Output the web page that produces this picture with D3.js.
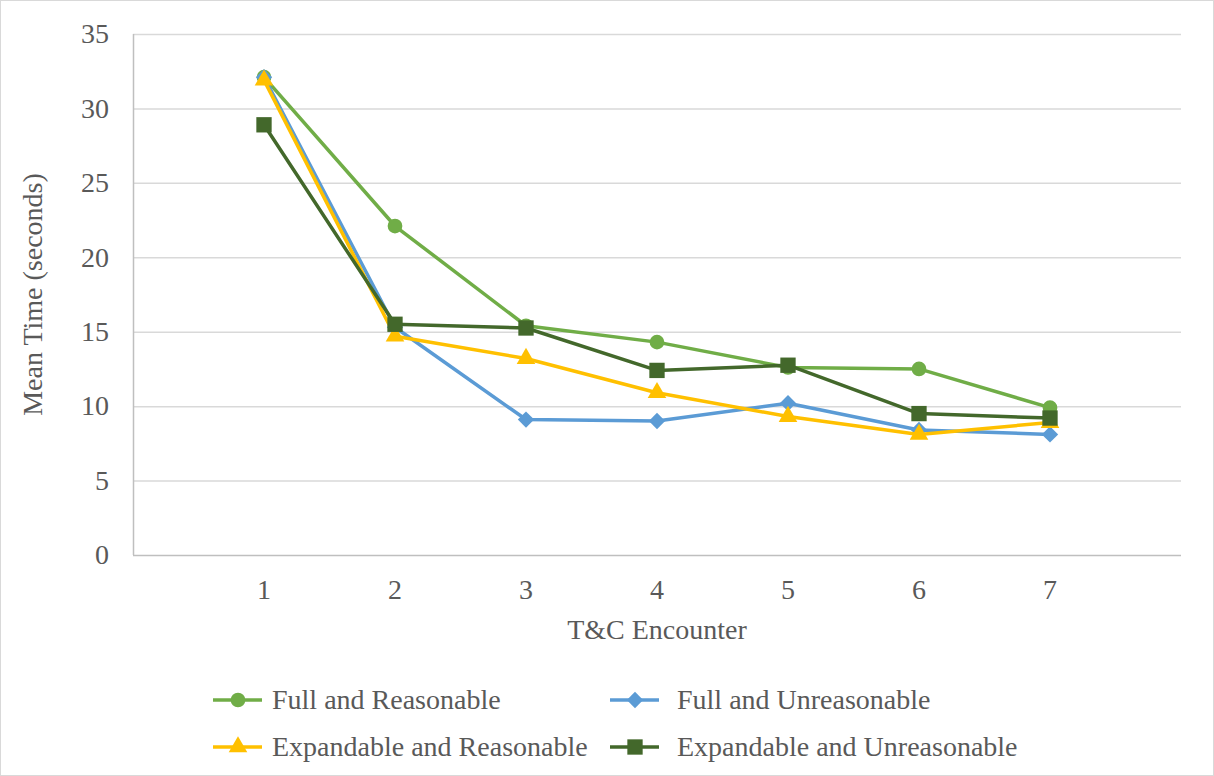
<!DOCTYPE html>
<html>
<head>
<meta charset="utf-8">
<script src="https://cdn.jsdelivr.net/npm/d3@7"></script>
<style>
  html, body { margin: 0; padding: 0; background: #fff; }
  svg { display: block; }
</style>
</head>
<body>
<svg id="chart" width="1214" height="776"></svg>
<script>
// T&C encounter number (x) and mean time in seconds per condition
const encounters = [1, 2, 3, 4, 5, 6, 7];
const yTicks = [0, 5, 10, 15, 20, 25, 30, 35];

const fullReasonable         = [32.1, 22.1, 15.4, 14.3, 12.6, 12.5, 9.9];
const fullUnreasonable       = [32.1, 15.3, 9.1, 9.0, 10.2, 8.4, 8.1];
const expandableReasonable   = [31.9, 14.7, 13.2, 10.9, 9.3, 8.1, 8.9];
const expandableUnreasonable = [28.9, 15.5, 15.25, 12.4, 12.75, 9.5, 9.2];

const seriesNames  = ["Full and Reasonable", "Full and Unreasonable", "Expandable and Reasonable", "Expandable and Unreasonable"];
const seriesColors = ["#70AD47", "#5B9BD5", "#FFC000", "#43682B"];
const seriesShapes = ["circle", "diamond", "triangle", "square"];

const series = [fullReasonable, fullUnreasonable, expandableReasonable, expandableUnreasonable]
  .map((vals, i) => ({ name: seriesNames[i], color: seriesColors[i], shape: seriesShapes[i], values: vals }));

const FONT = "Liberation Serif";
const FS = 28;
const TEXT_COLOR = "#595959";

const svg = d3.select("#chart");
const W = 1214, H = 776;
const plot = { left: 133, right: 1181, top: 34, bottom: 555 };

// outer chart frame
svg.append("rect").attr("x", 0.5).attr("y", 0.5).attr("width", W - 1).attr("height", H - 1)
  .attr("fill", "#fff").attr("stroke", "#d9d9d9").attr("stroke-width", 1);

const x = d3.scaleLinear().domain([0, 8]).range([plot.left, plot.right]);
const y = d3.scaleLinear().domain([0, 35]).range([plot.bottom, plot.top]);

function label(sel) {
  return sel.attr("font-family", FONT).attr("font-size", FS).attr("fill", TEXT_COLOR);
}

// horizontal gridlines
svg.append("g").selectAll("line").data(yTicks.filter(t => t > 0)).join("line")
  .attr("x1", plot.left).attr("x2", plot.right)
  .attr("y1", d => y(d) + 0.5).attr("y2", d => y(d) + 0.5)
  .attr("stroke", "#d9d9d9").attr("stroke-width", 1.5);

// axis lines
svg.append("line").attr("x1", plot.left + 0.5).attr("x2", plot.left + 0.5)
  .attr("y1", plot.top).attr("y2", plot.bottom)
  .attr("stroke", "#bfbfbf").attr("stroke-width", 1.5);
svg.append("line").attr("x1", plot.left).attr("x2", plot.right)
  .attr("y1", plot.bottom + 0.5).attr("y2", plot.bottom + 0.5)
  .attr("stroke", "#bfbfbf").attr("stroke-width", 1.5);

// y tick labels
svg.append("g").selectAll("text").data(yTicks).join("text")
  .attr("x", 109).attr("y", d => y(d))
  .attr("dy", "0.33em").attr("text-anchor", "end")
  .call(label).text(d => d);

// x tick labels
svg.append("g").selectAll("text").data(encounters).join("text")
  .attr("x", d => x(d)).attr("y", 599)
  .attr("text-anchor", "middle")
  .call(label).text(d => d);

// axis titles
svg.append("text").attr("x", x(4)).attr("y", 639).attr("text-anchor", "middle")
  .call(label).text("T&C Encounter");
svg.append("text").attr("transform", `translate(42,${(plot.top + plot.bottom) / 2}) rotate(-90)`)
  .attr("text-anchor", "middle").call(label).text("Mean Time (seconds)");

function symbolFor(shape) {
  if (shape === "circle") return d3.symbol(d3.symbolCircle, 170);
  if (shape === "diamond") return d3.symbol(d3.symbolDiamond2, 170);
  if (shape === "triangle") return d3.symbol(d3.symbolTriangle, 150);
  return d3.symbol(d3.symbolSquare, 235);
}

const line = d3.line().x((d, i) => x(encounters[i])).y(d => y(d));

series.forEach(s => {
  const g = svg.append("g");
  g.append("path").datum(s.values).attr("d", line)
    .attr("fill", "none").attr("stroke", s.color).attr("stroke-width", 3.5)
    .attr("stroke-linejoin", "round").attr("stroke-linecap", "round");
  g.selectAll("path.m").data(s.values).join("path").attr("class", "m")
    .attr("transform", (d, i) => `translate(${x(encounters[i])},${y(d)})`)
    .attr("d", symbolFor(s.shape)()).attr("fill", s.color);
});

// legend: two rows, two columns
const legendPos = [[213, 700], [610, 700], [213, 747], [610, 747]];
series.forEach((s, i) => {
  const [lx, ly] = legendPos[i];
  const g = svg.append("g").attr("transform", `translate(${lx},${ly})`);
  g.append("line").attr("x1", 0).attr("x2", 49).attr("y1", 0).attr("y2", 0)
    .attr("stroke", s.color).attr("stroke-width", 3.5);
  g.append("path").attr("transform", "translate(25,0)").attr("d", symbolFor(s.shape)()).attr("fill", s.color);
  g.append("text").attr("x", i % 2 === 0 ? 59 : 67).attr("y", 0).attr("dy", "0.33em")
    .call(label).text(s.name);
});
</script>
</body>
</html>
